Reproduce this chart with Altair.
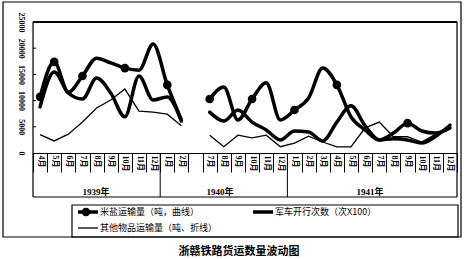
import altair as alt
import pandas as pd

# ---------------- data ----------------
months = ["4月", "5月", "6月", "7月", "8月", "9月", "10月", "11月", "12月",
          "1月", "2月", "",
          "7月", "8月", "9月", "10月", "11月", "12月",
          "1月", "2月", "3月", "4月", "5月", "6月", "7月", "8月", "9月", "10月", "11月", "12月"]
segment = [1] * 11 + [0] + [2] * 18

rice_salt = [10700, 17400, 11600, 14700, 18100, 17200, 16200, 15800, 20800, 13000, 6300,
             None,
             10300, 12600, 6300, 10300, 13400, 6300,
             8200, 10500, 16200, 13000, 6900, 4400, 2500, 3800, 5700, 4200, 3800, 4800]
troop_trains = [8800, 15450, 11450, 10300, 14300, 11450, 6900, 14700, 10100, 10700, 6100,
                None,
                7800, 6100, 8200, 5900, 4400, 2500,
                4200, 4000, 2300, 5900, 9000, 5200, 2500, 2700, 2500, 1900, 3200, 5300]
other_goods = [3500, 2300, 3600, 5900, 8600, 10100, 12200, 8000, 7800, 7400, 5200,
               None,
               3400, 1200, 3400, 2900, 3400, 1200,
               1900, 3200, 2100, 1150, 1150, 4800, 5900, 3100, 3100, 2100, 3600, 5000]
rice_marked = [0, 1, 3, 6, 9, 12, 15, 18, 21, 26]

series_names = ["米盐运输量（吨，曲线）", "军车开行次数（次X100）", "其他物品运输量（吨、折线）"]
year_labels = ["1939年", "1940年", "1941年"]
y_ticks = [0, 5000, 10000, 15000, 20000, 25000]
title_text = "浙赣铁路货运数量波动图"

keys = [f"{i:02d}|{m}" for i, m in enumerate(months)]

rows = []
for name, vals in zip(series_names, [rice_salt, troop_trains, other_goods]):
    for i, v in enumerate(vals):
        if v is not None:
            rows.append({"key": keys[i], "seg": segment[i], "series": name, "value": v,
                         "marked": name == series_names[0] and i in rice_marked})
df = pd.DataFrame(rows)

W, H = 424, 131
SERIF = "'Liberation Serif', 'Noto Sans CJK SC'"
CJK = "'Noto Sans CJK SC'"

x_enc = alt.X("key:N", sort=keys, bandPosition=0.5,
              scale=alt.Scale(type="band", domain=keys, paddingInner=0, paddingOuter=0),
              axis=alt.Axis(title=None, labelExpr="split(datum.value, '|')[1]",
                            labelAngle=90, labelAlign="left", labelBaseline="middle",
                            labelPadding=-17, tickBand="extent", tickSize=19,
                            tickColor="black", domainColor="black", labelColor="black",
                            labelFont=SERIF, labelFontSize=8, labelFontWeight="bold",
                            labelOverlap=False, grid=False))
y_scale = alt.Scale(domain=[0, 25000], nice=False)
y_axis = alt.Axis(title=None, values=y_ticks, format="d", labelAngle=90, labelAlign="center",
                  labelBaseline="middle", ticks=False, labelPadding=13,
                  domain=False, grid=False, labelColor="black",
                  labelFont=SERIF, labelFontSize=8, labelFontWeight="bold")
y_enc = alt.Y("value:Q", scale=y_scale, axis=y_axis)

base = alt.Chart(df)
thick = base.transform_filter(alt.datum.series != series_names[2]).mark_line(
    interpolate="monotone", strokeWidth=3.5, color="black", strokeCap="round"
).encode(x=x_enc, y=y_enc, detail=["series:N", "seg:N"])
thin = base.transform_filter(alt.datum.series == series_names[2]).mark_line(
    strokeWidth=1.3, color="black"
).encode(x=x_enc, y=y_enc, detail="seg:N")
dots = base.transform_filter(alt.datum.marked).mark_point(
    filled=True, size=75, color="black", opacity=1
).encode(x=x_enc, y=y_enc)

ytick_df = pd.DataFrame({"value": y_ticks[1:-1]})
yticks = alt.Chart(ytick_df).mark_rule(color="black", strokeWidth=1).encode(
    y=y_enc, x=alt.value(0), x2=alt.value(3))

one = alt.Data(values=[{"a": 1}])


def rule(x1, y1, x2, y2, w=1.0):
    return alt.Chart(one).mark_rule(color="black", strokeWidth=w).encode(
        x=alt.value(x1), x2=alt.value(x2), y=alt.value(y1), y2=alt.value(y2))


def box(x1, y1, x2, y2, w=1.0):
    return alt.Chart(one).mark_rect(fill="white", fillOpacity=0, stroke="black", strokeWidth=w).encode(
        x=alt.value(x1), x2=alt.value(x2), y=alt.value(y1), y2=alt.value(y2))


def text(x, y, s, size=9, font=CJK, weight="normal", align="left"):
    return alt.Chart(alt.Data(values=[{"t": s}])).mark_text(
        font=font, fontSize=size, fontWeight=weight, align=align, baseline="middle", color="black"
    ).encode(x=alt.value(x), y=alt.value(y), text="t:N")


bw = W / len(keys)
decor = [
    box(-30, -20, 428, 215, 1.2),
    rule(0, 0, W, 0, 2),
    rule(0, 0, 0, 175, 1.2),
    rule(W, 0, W, 175, 1.2),
    rule(0, 175, W, 175, 1),
    rule(bw * 9, H, bw * 9, 175, 1),
    rule(bw * 18, H, bw * 18, 175, 1),
    box(39, 183, 425, 215, 1.2),
    rule(45, 190, 65, 190, 3.5),
    rule(220, 190, 240, 190, 3.5),
    rule(45, 206, 65, 206, 1.3),
    alt.Chart(one).mark_point(filled=True, size=75, color="black", opacity=1).encode(
        x=alt.value(53), y=alt.value(190)),
    text(67, 190, series_names[0]),
    text(242, 190, series_names[1]),
    text(67, 206, series_names[2]),
    text(63, 170, year_labels[0], 9, SERIF, "bold", "center"),
    text(187, 170, year_labels[1], 9, SERIF, "bold", "center"),
    text(337, 170, year_labels[2], 9, SERIF, "bold", "center"),
    text(206, 230, title_text, 11, CJK, "bold", "center"),
]

chart = alt.layer(thin, thick, dots, yticks, *decor).properties(
    width=W, height=H,
    autosize=alt.AutoSizeParams(type="none"),
    padding={"left": 33, "top": 22, "right": 13, "bottom": 106},
).configure_view(stroke="black", strokeWidth=1).configure(background="white")

chart.save("out.html", embed_options={"renderer": "svg", "actions": False})
